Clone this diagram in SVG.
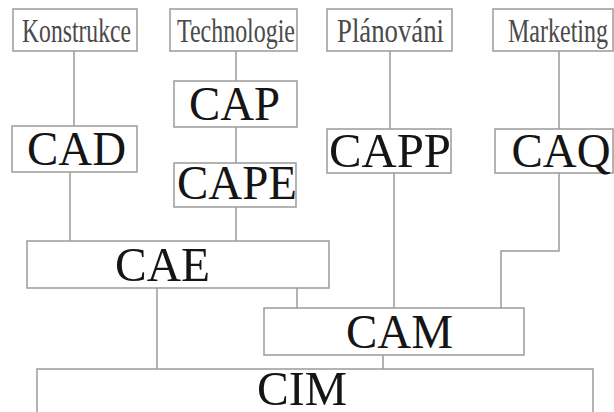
<svg xmlns="http://www.w3.org/2000/svg" width="614" height="412" viewBox="0 0 614 412">
<style>
  .box { fill: #ffffff; stroke: #9a9a9a; stroke-width: 1.5; }
  .lbl { font-family: "Liberation Serif", "Times New Roman", serif; font-size: 34px; fill: #4a4a4a; text-anchor: middle; }
  .big { font-family: "Liberation Serif", "Times New Roman", serif; font-size: 49px; fill: #151515; text-anchor: middle; }
  .con { fill: none; stroke: #9a9a9a; stroke-width: 1.5; }
</style>
<rect width="614" height="412" fill="#ffffff"/>
<g id="connectors">
  <line class="con" x1="74" y1="51" x2="74" y2="126"/>
  <line class="con" x1="70" y1="172" x2="70" y2="241"/>
  <line class="con" x1="236" y1="51" x2="236" y2="81"/>
  <line class="con" x1="236" y1="127" x2="236" y2="163"/>
  <line class="con" x1="236" y1="207" x2="236" y2="241"/>
  <line class="con" x1="390" y1="51" x2="390" y2="129"/>
  <line class="con" x1="394" y1="173" x2="394" y2="308"/>
  <line class="con" x1="559" y1="51" x2="559" y2="129"/>
  <polyline class="con" points="559,173 559,251 501,251 501,308"/>
  <line class="con" x1="297" y1="288" x2="297" y2="308"/>
  <line class="con" x1="157" y1="288" x2="157" y2="369"/>
  <line class="con" x1="383" y1="355" x2="383" y2="369"/>
</g>
<g id="konstrukce">
  <rect class="box" x="13" y="9" width="124" height="42"/>
  <text class="lbl" x="76.5" y="42" textLength="109" lengthAdjust="spacingAndGlyphs">Konstrukce</text>
</g>
<g id="technologie">
  <rect class="box" x="170" y="9" width="127" height="42"/>
  <text class="lbl" x="236" y="42" textLength="118" lengthAdjust="spacingAndGlyphs">Technologie</text>
</g>
<g id="planovani">
  <rect class="box" x="327" y="9" width="125" height="42"/>
  <text class="lbl" x="390.5" y="42" textLength="107" lengthAdjust="spacingAndGlyphs">Plánováni</text>
</g>
<g id="marketing">
  <rect class="box" x="493" y="9" width="120" height="42"/>
  <text class="lbl" x="558" y="42" textLength="100" lengthAdjust="spacingAndGlyphs">Marketing</text>
</g>
<g id="cap">
  <rect class="box" x="174" y="81" width="123" height="46"/>
  <text class="big" x="234.5" y="120" textLength="91" lengthAdjust="spacingAndGlyphs">CAP</text>
</g>
<g id="cad">
  <rect class="box" x="12" y="126" width="125" height="46"/>
  <text class="big" x="76.5" y="165" textLength="99" lengthAdjust="spacingAndGlyphs">CAD</text>
</g>
<g id="cape">
  <rect class="box" x="174" y="163" width="122" height="44"/>
  <text class="big" x="237" y="199" textLength="120" lengthAdjust="spacingAndGlyphs">CAPE</text>
</g>
<g id="capp">
  <rect class="box" x="327" y="129" width="124" height="44"/>
  <text class="big" x="390" y="167" textLength="122" lengthAdjust="spacingAndGlyphs">CAPP</text>
</g>
<g id="caq">
  <rect class="box" x="495" y="129" width="118" height="44"/>
  <text class="big" x="561" y="167" textLength="99" lengthAdjust="spacingAndGlyphs">CAQ</text>
</g>
<g id="cae">
  <rect class="box" x="27" y="241" width="302" height="47"/>
  <text class="big" x="162.5" y="281" textLength="95" lengthAdjust="spacingAndGlyphs">CAE</text>
</g>
<g id="cam">
  <rect class="box" x="264" y="308" width="260" height="47"/>
  <text class="big" x="399.5" y="348" textLength="107" lengthAdjust="spacingAndGlyphs">CAM</text>
</g>
<g id="cim">
  <rect class="box" x="37" y="369" width="556" height="60"/>
  <text class="big" x="302" y="405" textLength="90" lengthAdjust="spacingAndGlyphs">CIM</text>
</g>
</svg>
